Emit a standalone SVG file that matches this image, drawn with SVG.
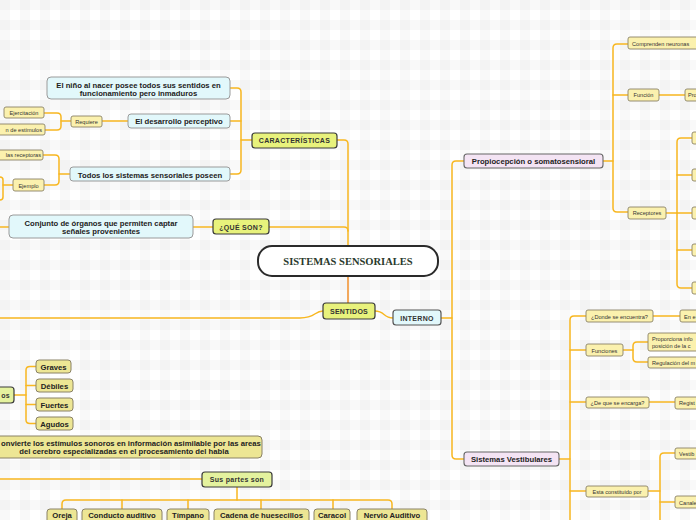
<svg xmlns="http://www.w3.org/2000/svg" width="696" height="520" viewBox="0 0 696 520">
<defs>
<pattern id="bg" width="20" height="20" patternUnits="userSpaceOnUse">
<rect width="20" height="20" fill="#ffffff"/>
<rect x="0" y="0" width="10" height="20" fill="#000" opacity="0.025"/>
<rect x="0" y="0" width="20" height="10" fill="#000" opacity="0.025"/>
</pattern>
<style>
.c{fill:none;stroke:#f8b720;stroke-width:1.5;stroke-linecap:round}
.co{fill:none;stroke:#f2a85c;stroke-width:2}
.m{fill:#e8f27c;stroke:#3a3a3a;stroke-width:1.2}
.g{fill:#e4f29e;stroke:#3a3a3a;stroke-width:1.2}
.cy{fill:#e2f8fb;stroke:#9a9a9a;stroke-width:1}
.cyd{fill:#e2f8fb;stroke:#555;stroke-width:1.2}
.pk{fill:#f4e4f4;stroke:#666;stroke-width:1.1}
.y{fill:#fbf1ae;stroke:#8a8266;stroke-width:0.9}
.yb{fill:#ede694;stroke:#8a8266;stroke-width:1}
.tb{font-family:"Liberation Sans",Arial,sans-serif;font-weight:bold;font-size:7.7px;fill:#222;text-anchor:middle}
.tm{font-family:"Liberation Sans",Arial,sans-serif;font-weight:bold;font-size:7px;fill:#333;text-anchor:middle;letter-spacing:0.3px}
.ts{font-family:"Liberation Sans",Arial,sans-serif;font-size:5.6px;fill:#333;text-anchor:middle}
.tl{font-family:"Liberation Sans",Arial,sans-serif;font-size:5.6px;fill:#333}
.st{text-anchor:start}
.en{text-anchor:end}
</style>
</defs>
<rect width="696" height="520" fill="url(#bg)"/>

<g id="connectors">
<path class="c" d="M337,140 H344 Q348,140 348,144 V246"/>
<path class="c" d="M269,227 H344 Q348,227 348,231"/>
<path class="co" d="M348,276 V303"/>
<path class="c" d="M323,311 C314,311 316,318 300,318 H0"/>
<path class="c" d="M375,311 C385,311 383,318 393,318"/>
<path class="c" d="M441,318 H452"/>
<path class="c" d="M464,161 H456 Q452,161 452,165 V455 Q452,459 456,459 H464"/>
<path class="c" d="M603,161 H613"/>
<path class="c" d="M628,44 H617 Q613,44 613,48 V208 Q613,212 617,212 H628"/>
<path class="c" d="M613,95 H628"/>
<path class="c" d="M659,95 H685"/>
<path class="c" d="M666,213 H677"/>
<path class="c" d="M692,138 H681 Q677,138 677,142 V284 Q677,288 681,288 H692"/>
<path class="c" d="M677,175 H692 M677,213 H692 M677,250 H692"/>
<path class="c" d="M559,459 H570"/>
<path class="c" d="M586,316 H574 Q570,316 570,320 V520"/>
<path class="c" d="M570,350 H586 M570,402 H586 M570,491 H586"/>
<path class="c" d="M653,316 H680"/>
<path class="c" d="M623,350 H633"/>
<path class="c" d="M648,342 H637 Q633,342 633,346 V358 Q633,362 637,362 H648"/>
<path class="c" d="M649,402 H675"/>
<path class="c" d="M648,491 H660"/>
<path class="c" d="M675,453 H664 Q660,453 660,457 V520"/>
<path class="c" d="M660,502 H675"/>
<path class="c" d="M252,140 H241"/>
<path class="c" d="M230,88 H237 Q241,88 241,92 V170 Q241,174 237,174 H230"/>
<path class="c" d="M241,121 H230"/>
<path class="c" d="M128,121 H102"/>
<path class="c" d="M71,121 H61"/>
<path class="c" d="M44,113 H57 Q61,113 61,117 V126 Q61,130 57,130 H45"/>
<path class="c" d="M70,174 H59"/>
<path class="c" d="M43,155 H55 Q59,155 59,159 V181 Q59,185 55,185 H44"/>
<path class="c" d="M13,185 H3"/>
<path class="c" d="M0,177 Q3,177 3,180 V197 Q3,200 0,200"/>
<path class="c" d="M193,227 H213"/>
<path class="c" d="M0,227 H9"/>
<path class="c" d="M14,395 H26"/>
<path class="c" d="M36,366.5 H30 Q26,366.5 26,370 V420 Q26,423.5 30,423.5 H36"/>
<path class="c" d="M26,385.5 H36 M26,404.5 H36"/>
<path class="c" d="M0,479 H202"/>
<path class="c" d="M237,487 V500"/>
<path class="c" d="M62,509 V504 Q62,500 66,500 H388 Q392,500 392,504 V509"/>
<path class="c" d="M122,500 V509 M188,500 V509 M261,500 V509 M333,500 V509"/>
</g>

<g id="central">
<rect x="258" y="246" width="180" height="30" rx="14" fill="#fff" stroke="#2a2a2a" stroke-width="2"/>
<text x="348" y="264.5" font-family="'Liberation Serif','Times New Roman',serif" font-weight="bold" font-size="10.5" fill="#2a3a2c" text-anchor="middle">SISTEMAS SENSORIALES</text>
</g>
<g id="caracteristicas"><rect class="m" x="252" y="133" width="85" height="15" rx="3"/><text class="tm" x="294.5" y="143">CARACTERÍSTICAS</text></g>
<g id="queson"><rect class="m" x="213" y="219" width="56" height="15" rx="3"/><text class="tm" x="241" y="229.5">¿QUÉ SON?</text></g>
<g id="sentidos"><rect class="m" x="323" y="303" width="52" height="16" rx="3"/><text class="tm" x="349" y="314">SENTIDOS</text></g>
<g id="interno"><rect class="cyd" x="393" y="310" width="48" height="15" rx="3"/><text class="tm" x="417" y="320.5">INTERNO</text></g>

<g id="nino"><rect class="cy" x="47" y="77" width="183" height="22" rx="4"/><text class="tb" x="138.5" y="88">El niño al nacer posee todos sus sentidos en</text><text class="tb" x="138.5" y="96">funcionamiento pero inmaduros</text></g>
<g id="desarrollo"><rect class="cy" x="128" y="114" width="102" height="14" rx="3"/><text class="tb" x="179" y="124">El desarrollo perceptivo</text></g>
<g id="todos"><rect class="cy" x="70" y="167" width="160" height="14" rx="3"/><text class="tb" x="150" y="177.5">Todos los sistemas sensoriales poseen</text></g>
<g id="requiere"><rect class="y" x="71" y="116" width="31" height="11" rx="2"/><text class="ts" x="86.5" y="123.5">Requiere</text></g>
<g id="ejercitacion"><rect class="y" x="4" y="107" width="40" height="11" rx="2"/><text class="ts" x="24" y="114.5">Ejercitación</text></g>
<g id="estimulos"><rect class="y" x="-20" y="124" width="65" height="11" rx="2"/><text class="tl en" x="42" y="131.5">n de estímulos</text></g>
<g id="receptoras"><rect class="y" x="-20" y="150" width="63" height="10" rx="2"/><text class="tl en" x="41" y="157">las receptoras</text></g>
<g id="ejemplo"><rect class="y" x="13" y="179" width="31" height="12" rx="2"/><text class="ts" x="28.5" y="187.5">Ejemplo</text></g>
<g id="conjunto"><rect class="cy" x="9" y="215" width="184" height="23" rx="4"/><text class="tb" x="101" y="226">Conjunto de órganos que permiten captar</text><text class="tb" x="101" y="234">señales provenientes</text></g>

<g id="propiocepcion"><rect class="pk" x="464" y="154" width="139" height="14" rx="3"/><text class="tb" x="533.5" y="164">Propiocepción o somatosensioral</text></g>
<g id="comprenden"><rect class="y" x="628" y="37" width="75" height="12" rx="2"/><text class="tl" x="632" y="45.5">Comprenden neuronas</text></g>
<g id="funcion"><rect class="y" x="628" y="89" width="31" height="12" rx="2"/><text class="ts" x="643.5" y="97">Función</text></g>
<g id="pro"><rect class="y" x="685" y="89" width="20" height="12" rx="2"/><text class="tl" x="688" y="97">Pro</text></g>
<g id="receptores"><rect class="y" x="628" y="207" width="38" height="12" rx="2"/><text class="ts" x="647" y="215">Receptores</text></g>
<g id="rec1"><rect class="y" x="692" y="132" width="10" height="12" rx="2"/></g>
<g id="rec2"><rect class="y" x="692" y="169" width="10" height="12" rx="2"/></g>
<g id="rec3"><rect class="y" x="692" y="207" width="10" height="12" rx="2"/></g>
<g id="rec4"><rect class="y" x="692" y="244" width="10" height="12" rx="2"/></g>
<g id="rec5"><rect class="y" x="692" y="282" width="10" height="12" rx="2"/></g>

<g id="vestibulares"><rect class="pk" x="464" y="452" width="95" height="14" rx="3"/><text class="tb" x="511.5" y="462">Sistemas Vestibulares</text></g>
<g id="donde"><rect class="y" x="586" y="310" width="67" height="12" rx="2"/><text class="ts" x="619.5" y="318.5">¿Donde se encuentra?</text></g>
<g id="ene"><rect class="y" x="680" y="310" width="25" height="12" rx="2"/><text class="tl" x="684" y="318.5">En e</text></g>
<g id="funciones"><rect class="y" x="586" y="344" width="37" height="12" rx="2"/><text class="ts" x="604.5" y="352.5">Funciones</text></g>
<g id="proporciona"><rect class="y" x="648" y="333" width="60" height="18" rx="2"/><text class="tl" x="652" y="341">Proporciona info</text><text class="tl" x="652" y="348">posición de la c</text></g>
<g id="regulacion"><rect class="y" x="648" y="357" width="60" height="11" rx="2"/><text class="tl" x="652" y="364.5">Regulación del m</text></g>
<g id="dequeseencarga"><rect class="y" x="586" y="397" width="63" height="11" rx="2"/><text class="ts" x="617.5" y="404.5">¿De que se encarga?</text></g>
<g id="regist"><rect class="y" x="675" y="397" width="30" height="12" rx="2"/><text class="tl" x="679" y="405">Regist</text></g>
<g id="esta"><rect class="y" x="586" y="486" width="62" height="11" rx="2"/><text class="ts" x="617" y="493.5">Esta constituido por</text></g>
<g id="vestib"><rect class="y" x="675" y="448" width="30" height="11" rx="2"/><text class="tl" x="679" y="455.5">Vestib</text></g>
<g id="canale"><rect class="y" x="675" y="496" width="30" height="12" rx="2"/><text class="tl" x="679" y="504.5">Canale</text></g>

<g id="tonos"><rect class="g" x="-30" y="387" width="44" height="16" rx="3"/><text class="tm en" x="10" y="398">os</text></g>
<g id="graves"><rect class="yb" x="36" y="360" width="35" height="13" rx="3"/><text class="tb" x="53.5" y="369.5">Graves</text></g>
<g id="debiles"><rect class="yb" x="36" y="379" width="37" height="13" rx="3"/><text class="tb" x="54.5" y="388.5">Débiles</text></g>
<g id="fuertes"><rect class="yb" x="36" y="398" width="37" height="13" rx="3"/><text class="tb" x="54.5" y="407.5">Fuertes</text></g>
<g id="agudos"><rect class="yb" x="36" y="417" width="37" height="13" rx="3"/><text class="tb" x="54.5" y="426.5">Agudos</text></g>
<g id="convierte"><rect class="yb" x="-14" y="436" width="276" height="22" rx="4"/><text class="tb st" x="1" y="446">onvierte los estímulos sonoros en información asimilable por las areas</text><text class="tb" x="124" y="454">del cerebro especializadas en el procesamiento del habla</text></g>
<g id="suspartes"><rect class="g" x="202" y="472" width="70" height="15" rx="3"/><text class="tm" x="237" y="482">Sus partes son</text></g>
<g id="oreja"><rect class="yb" x="47" y="509" width="30" height="16" rx="3"/><text class="tb" x="62" y="517.5">Oreja</text></g>
<g id="conducto"><rect class="yb" x="82" y="509" width="80" height="16" rx="3"/><text class="tb" x="122" y="517.5">Conducto auditivo</text></g>
<g id="timpano"><rect class="yb" x="167" y="509" width="42" height="16" rx="3"/><text class="tb" x="188" y="517.5">Tímpano</text></g>
<g id="cadena"><rect class="yb" x="214" y="509" width="95" height="16" rx="3"/><text class="tb" x="261.5" y="517.5">Cadena de huesecillos</text></g>
<g id="caracol"><rect class="yb" x="314" y="509" width="36" height="16" rx="3"/><text class="tb" x="332" y="517.5">Caracol</text></g>
<g id="nervio"><rect class="yb" x="357" y="509" width="70" height="16" rx="3"/><text class="tb" x="392" y="517.5">Nervio Auditivo</text></g>
</svg>
